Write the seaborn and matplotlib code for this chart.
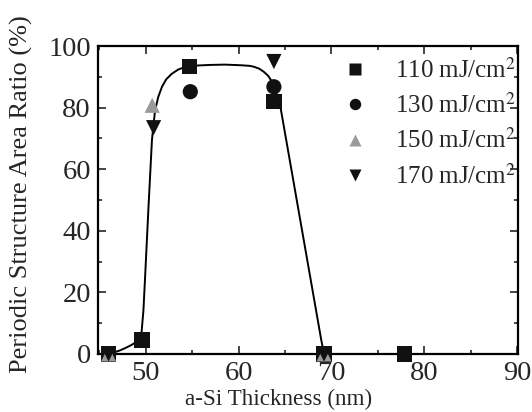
import matplotlib
matplotlib.use("Agg")

import matplotlib.pyplot as plt
import pandas as pd
import seaborn as sns
from matplotlib.ticker import MultipleLocator

# ---------------------------------------------------------------------------
# Data
# ---------------------------------------------------------------------------
SERIES = ["110 mJ/cm$^2$", "130 mJ/cm$^2$", "150 mJ/cm$^2$", "170 mJ/cm$^2$"]

x_110 = [46.0, 49.6, 54.7, 63.8, 69.2, 77.9]
y_110 = [0.0, 4.5, 93.5, 82.0, 0.0, 0.0]

x_130 = [46.0, 54.8, 63.8, 69.2]
y_130 = [0.0, 85.2, 86.8, 0.0]

x_150 = [46.0, 50.7, 69.2]
y_150 = [0.0, 80.8, 0.0]

x_170 = [46.0, 50.85, 63.8, 69.2]
y_170 = [0.0, 73.5, 95.0, 0.0]

# guide curve
curve_x = [46.0, 46.6, 47.2, 47.8, 48.4, 48.9, 49.3, 49.55, 49.75, 49.95,
           50.3, 50.67, 51.0, 51.35, 51.75, 52.2, 52.8, 53.5, 54.3, 55.5,
           57.0, 58.5, 60.2, 61.2, 61.65, 62.2, 62.7, 63.2, 63.6, 64.0,
           64.5, 68.9, 69.2]
curve_y = [0.0, 0.5, 1.1, 1.9, 2.8, 3.7, 4.8, 7.0, 14.0, 26.0,
           47.8, 69.5, 79.0, 83.5, 86.8, 89.2, 91.0, 92.4, 93.3, 93.7,
           93.9, 94.0, 93.8, 93.6, 93.3, 92.7, 91.7, 90.3, 88.4, 85.5,
           80.3, 4.5, 0.0]

MARKERS = {SERIES[0]: "s", SERIES[1]: "o", SERIES[2]: "^", SERIES[3]: "v"}
PALETTE = {SERIES[0]: "#111111", SERIES[1]: "#111111",
           SERIES[2]: "#9a9a9a", SERIES[3]: "#111111"}

frames = []
for name, xs, ys in zip(SERIES, [x_110, x_130, x_150, x_170],
                        [y_110, y_130, y_150, y_170]):
    frames.append(pd.DataFrame({"x": xs, "y": ys, "Fluence": name}))
points = pd.concat(frames, ignore_index=True)
curve = pd.DataFrame({"x": curve_x, "y": curve_y})

sns.set_theme(style="ticks")
plt.rcParams["font.family"] = ["Liberation Serif", "DejaVu Serif"]
plt.rcParams["mathtext.fontset"] = "stix"

fig = plt.figure(figsize=(5.32, 4.12), dpi=100)
ax = fig.add_axes([0.184, 0.141, 0.79, 0.747])

sns.lineplot(data=curve, x="x", y="y", sort=False, color="black",
             linewidth=1.4, ax=ax, estimator=None)
sns.scatterplot(data=points, x="x", y="y", hue="Fluence", style="Fluence",
                hue_order=SERIES, style_order=SERIES,
                markers=MARKERS, palette=PALETTE, s=120,
                edgecolor="none", ax=ax, clip_on=False, zorder=5)

ax.set_xlim(44.85, 90.1)
ax.set_ylim(0, 100)
ax.xaxis.set_major_locator(MultipleLocator(10))
ax.xaxis.set_minor_locator(MultipleLocator(5))
ax.yaxis.set_major_locator(MultipleLocator(20))
ax.yaxis.set_minor_locator(MultipleLocator(10))
ax.tick_params(which="both", direction="in", top=True, right=True,
               labelsize=20.5, width=1.2, pad=5)
ax.tick_params(which="major", length=6)
ax.tick_params(which="minor", length=3)
for sp in ax.spines.values():
    sp.set_linewidth(1.6)
    sp.set_color("black")

ax.set_xlabel("a-Si Thickness (nm)", fontsize=16.7)
ax.xaxis.set_label_coords(0.43, -0.112)
ax.set_ylabel("Periodic Structure Area Ratio (%)", fontsize=19)
ax.yaxis.set_label_coords(-0.155, 0.52)

leg = ax.legend(loc="upper right", frameon=False, fontsize=18,
                handletextpad=0.6, labelspacing=0.42, borderaxespad=0.0,
                markerscale=0.75, bbox_to_anchor=(1.02, 0.995))

fig.savefig("out.png", dpi=100)
